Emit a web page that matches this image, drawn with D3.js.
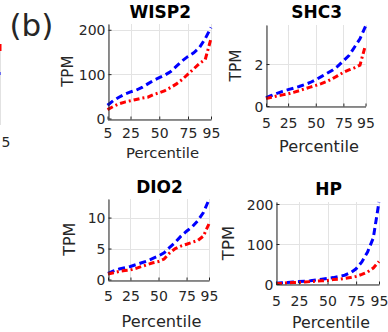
<!DOCTYPE html>
<html>
<head>
<meta charset="utf-8">
<script src="https://cdn.jsdelivr.net/npm/d3@7/dist/d3.min.js"></script>
<style>
  html, body { margin: 0; padding: 0; background: #fff; }
  svg { display: block; }
  text { font-family: "DejaVu Sans", sans-serif; fill: #262626; }
</style>
</head>
<body>
<div id="chart"></div>
<script>
// ---------- data ----------
const percentiles = [5, 10, 15, 20, 25, 30, 35, 40, 45, 50, 55, 60, 65, 70, 75, 80, 85, 90, 95];
const xTickValues = [5, 25, 50, 75, 95];

const geneNames = ["WISP2", "SHC3", "DIO2", "HP"];

const wisp2Blue = [30, 40, 48, 55, 60, 64, 70, 78, 86, 92, 98, 106, 118, 130, 140, 148, 160, 180, 205];
const wisp2Red  = [20, 27, 33, 37, 40, 43, 46, 48, 54, 58, 63, 70, 78, 88, 100, 112, 124, 133, 180];

const shc3Blue = [0.4, 0.5, 0.6, 0.7, 0.78, 0.85, 0.93, 1.02, 1.12, 1.25, 1.4, 1.55, 1.7, 1.9, 2.15, 2.4, 2.8, 3.2, 3.8];
const shc3Red  = [0.35, 0.42, 0.48, 0.53, 0.58, 0.65, 0.73, 0.82, 0.9, 0.98, 1.07, 1.17, 1.3, 1.45, 1.6, 1.72, 1.82, 1.95, 2.9];

const dio2Blue = [1.0, 1.4, 1.7, 1.9, 2.1, 2.4, 2.7, 3.0, 3.4, 3.8, 4.3, 5.2, 6.0, 7.0, 7.8, 8.5, 9.5, 10.8, 12.9];
const dio2Red  = [0.9, 1.1, 1.3, 1.45, 1.55, 1.8, 2.1, 2.4, 2.7, 2.9, 3.3, 4.3, 5.0, 5.4, 5.7, 6.0, 6.3, 7.0, 9.0];

const hpBlue = [2, 3, 4, 5, 6, 7, 8, 10, 12, 14, 16, 19, 22, 28, 38, 55, 80, 115, 205];
const hpRed  = [1.5, 2, 3, 3.5, 4, 5, 6, 7, 8, 9, 11, 12, 14, 16, 19, 24, 30, 40, 56];

const yTicksWISP2 = [0, 100, 200];
const yTicksSHC3 = [0, 2];
const yTicksDIO2 = [0, 5, 10];
const yTicksHP = [0, 100, 200];

const yMaxWISP2 = 213;
const yMaxSHC3 = 3.86;
const yMaxDIO2 = 13;
const yMaxHP = 205;

const xLabel = "Percentile";
const yLabel = "TPM";
const panelLetter = "(b)";

// ---------- layout ----------
const W = 388, H = 332;
const svg = d3.select("#chart").append("svg").attr("width", W).attr("height", H);

const panels = [
  { title: geneNames[0], blue: wisp2Blue, red: wisp2Red, yTicks: yTicksWISP2, yMax: yMaxWISP2,
    box: { l: 107.5, r: 211, t: 24, b: 118.5 }, titleY: 18, tickY: 138, labX: 162.5, labY: 158, labFs: 14.8,
    tpmX: 68, tpmFs: 15 },
  { title: geneNames[1], blue: shc3Blue, red: shc3Red, yTicks: yTicksSHC3, yMax: yMaxSHC3,
    box: { l: 266, r: 365.5, t: 25, b: 106 }, titleY: 18, tickY: 127.5, labX: 319, labY: 151.5, labFs: 16.2,
    tpmX: 236, tpmFs: 15.3 },
  { title: geneNames[2], blue: dio2Blue, red: dio2Red, yTicks: yTicksDIO2, yMax: yMaxDIO2,
    box: { l: 108, r: 209, t: 199, b: 279.5 }, titleY: 193, tickY: 301, labX: 161.5, labY: 326.5, labFs: 16.2,
    tpmX: 70, tpmFs: 16 },
  { title: geneNames[3], blue: hpBlue, red: hpRed, yTicks: yTicksHP, yMax: yMaxHP,
    box: { l: 276, r: 379, t: 202, b: 284 }, titleY: 195, tickY: 306, labX: 331, labY: 327.5, labFs: 15.8,
    tpmX: 229, tpmFs: 16.5 }
];

// panel letter
svg.append("text").attr("x", 9.5).attr("y", 36).attr("font-size", 31).text(panelLetter);

// remnant of neighbouring panel at far left
svg.append("line").attr("x1", 0.5).attr("x2", 0.5).attr("y1", 46).attr("y2", 125)
  .attr("stroke", "#e2e2e2").attr("stroke-width", 1);
svg.append("line").attr("x1", 0).attr("x2", 0).attr("y1", 44).attr("y2", 51)
  .attr("stroke", "#ff0000").attr("stroke-width", 3);
svg.append("line").attr("x1", 0).attr("x2", 0).attr("y1", 72).attr("y2", 75)
  .attr("stroke", "#0000ff").attr("stroke-width", 2).attr("opacity", 0.5);
svg.append("text").attr("x", 6).attr("y", 147).attr("font-size", 14).attr("text-anchor", "middle").text("5");

panels.forEach(p => {
  const b = p.box;
  const x = d3.scaleLinear().domain([5, 95]).range([b.l, b.r]);
  const y = d3.scaleLinear().domain([0, p.yMax]).range([b.b, b.t]);
  const g = svg.append("g");

  // grid
  g.selectAll(".gx").data(xTickValues).enter().append("line")
    .attr("x1", d => Math.round(x(d)) + 0.5).attr("x2", d => Math.round(x(d)) + 0.5)
    .attr("y1", b.t).attr("y2", b.b).attr("stroke", "#e3e3e3").attr("stroke-width", 1);
  g.selectAll(".gy").data(p.yTicks).enter().append("line")
    .attr("y1", d => Math.round(y(d)) + 0.5).attr("y2", d => Math.round(y(d)) + 0.5)
    .attr("x1", b.l).attr("x2", b.r).attr("stroke", "#e3e3e3").attr("stroke-width", 1);

  // lines
  const line = d3.line().x((d, i) => x(percentiles[i])).y(d => y(d));
  g.append("path").datum(p.blue).attr("d", line).attr("fill", "none")
    .attr("stroke", "#0000ff").attr("stroke-width", 3).attr("stroke-dasharray", "7,4");
  g.append("path").datum(p.red).attr("d", line).attr("fill", "none")
    .attr("stroke", "#ff0000").attr("stroke-width", 3).attr("stroke-dasharray", "6,3,2,3");

  // axes
  const fmt = d => String(d);
  const xAxis = d3.axisBottom(x).tickValues(xTickValues).tickFormat(fmt).tickSizeInner(-3).tickSizeOuter(0).tickPadding(0);
  const yAxis = d3.axisLeft(y).tickValues(p.yTicks).tickFormat(fmt).tickSizeInner(-3).tickSizeOuter(0).tickPadding(0);
  const gx = g.append("g").attr("transform", `translate(0,${Math.round(b.b) + 0.5})`).call(xAxis);
  const gy = g.append("g").attr("transform", `translate(${Math.round(b.l) + 0.5},0)`).call(yAxis);
  [gx, gy].forEach(a => {
    a.select(".domain").attr("stroke", "#262626");
    a.selectAll(".tick line").attr("stroke", "#262626");
    a.selectAll("text").attr("font-family", "DejaVu Sans").attr("font-size", 14).attr("fill", "#262626");
  });
  gx.selectAll("text").attr("dy", null).attr("y", p.tickY - Math.round(b.b) - 0.5);
  gy.selectAll("text").attr("x", -3).attr("dy", "0.36em");

  // labels
  svg.append("text").attr("x", (b.l + b.r) / 2 + 1).attr("y", p.titleY)
    .attr("text-anchor", "middle").attr("font-size", 17).attr("font-weight", "bold")
    .style("fill", "#000").text(p.title);
  svg.append("text").attr("x", p.labX).attr("y", p.labY)
    .attr("text-anchor", "middle").attr("font-size", p.labFs).text(xLabel);
  svg.append("text").attr("transform", `translate(${p.tpmX + 5},${(b.t + b.b) / 2}) rotate(-90)`)
    .attr("text-anchor", "middle").attr("font-size", p.tpmFs).text(yLabel);
});
</script>
</body>
</html>
